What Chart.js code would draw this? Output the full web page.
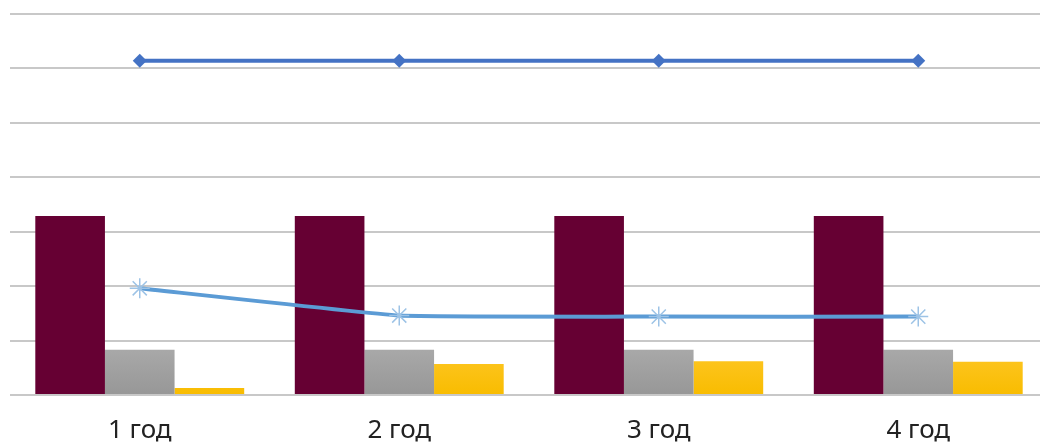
<!DOCTYPE html>
<html>
<head>
<meta charset="utf-8">
<script src="https://cdn.jsdelivr.net/npm/chart.js@4"></script>
<style>
  html, body { margin: 0; padding: 0; background: #fff; overflow: hidden; }
  #wrap { position: absolute; left: 0; top: 0; width: 1048px; height: 443px; }
</style>
</head>
<body>
<div id="wrap"><canvas id="chart" width="1048" height="443"></canvas></div>
<script>
var labels = ['1 год', '2 год', '3 год', '4 год'];
var seriesA = [3.29, 3.29, 3.29, 3.29];
var seriesB = [0.83, 0.83, 0.83, 0.83];
var seriesC = [0.13, 0.57, 0.62, 0.61];
var lineTop = [6.14, 6.14, 6.14, 6.14];
var lineLow = [1.96, 1.46, 1.44, 1.44];

function vGrad(top, bottom) {
  return function(ctx) {
    var area = ctx.chart.chartArea;
    if (!area) return bottom;
    var g = ctx.chart.ctx.createLinearGradient(0, area.bottom - 50, 0, area.bottom);
    g.addColorStop(0, top);
    g.addColorStop(1, bottom);
    return g;
  };
}

new Chart('chart', {
  type: 'bar',
  data: {
    labels: labels,
    datasets: [
      {
        type: 'line',
        data: lineTop,
        borderColor: '#4472C4',
        backgroundColor: '#4472C4',
        borderWidth: 4,
        pointStyle: 'rectRot',
        pointRadius: 7,
        pointBorderWidth: 0,
        order: 0
      },
      {
        type: 'line',
        data: lineLow,
        borderColor: '#5B9BD5',
        backgroundColor: '#5B9BD5',
        borderWidth: 4,
        tension: 0.1,
        pointStyle: 'star',
        pointRadius: 10,
        pointBorderColor: '#9DC3E6',
        pointBorderWidth: 1.5,
        order: 0
      },
      {
        data: seriesA,
        backgroundColor: '#660033',
        order: 1
      },
      {
        data: seriesB,
        backgroundColor: vGrad('#aaaaaa', '#979797'),
        order: 1
      },
      {
        data: seriesC,
        backgroundColor: vGrad('#ffc82a', '#f8bc00'),
        order: 1
      }
    ]
  },
  options: {
    responsive: false,
    animation: false,
    layout: { autoPadding: false, padding: { left: 10, right: 0, top: 14, bottom: 0 } },
    datasets: {
      bar: { categoryPercentage: 0.805, barPercentage: 1 }
    },
    plugins: {
      legend: { display: false },
      tooltip: { enabled: false }
    },
    scales: {
      x: {
        grid: { display: false, drawTicks: false },
        border: { display: false },
        ticks: {
          padding: 20,
          color: '#222222',
          font: { family: 'Noto Sans', size: 26 }
        },
        afterFit: function(axis) { axis.height = 48; axis.paddingLeft = 0; axis.paddingRight = 0; }
      },
      y: {
        min: 0,
        max: 7,
        grid: { color: '#c8c8c8', lineWidth: 2, drawTicks: false },
        border: { display: false },
        ticks: { display: false, stepSize: 1 },
        afterFit: function(axis) { axis.width = 0; }
      }
    }
  }
});
</script>
</body>
</html>
